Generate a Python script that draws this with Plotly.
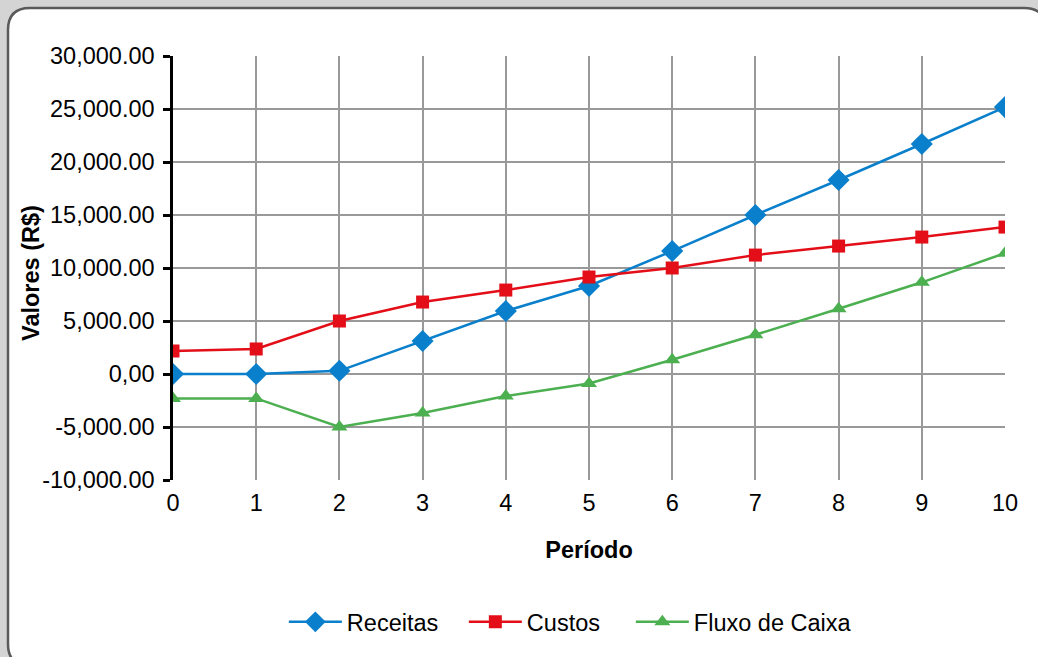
import plotly.graph_objects as go

periodos = [0, 1, 2, 3, 4, 5, 6, 7, 8, 9, 10]
receitas = [0, 0, 300, 3110, 5940, 8300, 11600, 15000, 18300, 21700, 25180]
custos = [2170, 2360, 5000, 6790, 7920, 9150, 10000, 11220, 12070, 12920, 13860]
fluxo = [-2300, -2300, -5000, -3680, -2080, -900, 1350, 3700, 6150, 8650, 11400]

y_ticks = [-10000, -5000, 0, 5000, 10000, 15000, 20000, 25000, 30000]
y_labels = ["-10,000.00", "-5,000.00", "0,00", "5,000.00", "10,000.00",
            "15,000.00", "20,000.00", "25,000.00", "30,000.00"]

W, H = 1038, 657
L, R, T, B = 173, 33, 56, 177
pw, ph = W - L - R, H - T - B
FS = 23.5

def px(x):
    return (x - L) / pw

def py(y):
    return (H - B - y) / ph

fig = go.Figure()
fig.add_trace(go.Scatter(x=periodos, y=receitas, name="Receitas", mode="lines+markers",
                         line=dict(color="#0a7fcb", width=2.5), legend="legend",
                         marker=dict(symbol="diamond", size=17, color="#0a7fcb")))
fig.add_trace(go.Scatter(x=periodos, y=custos, name="Custos", mode="lines+markers",
                         line=dict(color="#e30e18", width=2.5), legend="legend2",
                         marker=dict(symbol="square", size=13, color="#e30e18")))
fig.add_trace(go.Scatter(x=periodos, y=fluxo, name="Fluxo de Caixa", mode="lines+markers",
                         line=dict(color="#4caf50", width=2.5), legend="legend3",
                         marker=dict(symbol="triangle-up", size=14, color="#4caf50")))

# rounded panel
x0, y0, x1, y1, r = px(8), py(8), px(1046), py(666), 22
rx, ry = r / pw, r / ph
path = (f"M {x0+rx},{y0} L {x1-rx},{y0} Q {x1},{y0} {x1},{y0-ry} "
        f"L {x1},{y1+ry} Q {x1},{y1} {x1-rx},{y1} L {x0+rx},{y1} "
        f"Q {x0},{y1} {x0},{y1+ry} L {x0},{y0-ry} Q {x0},{y0} {x0+rx},{y0} Z")
fig.add_shape(type="path", path=path, xref="paper", yref="paper",
              fillcolor="white", line=dict(color="#5a5a5a", width=2.5), layer="below")

fig.add_annotation(text="<b>Valores (R$)</b>", textangle=-90, xref="paper", yref="paper",
                   x=px(31), y=py(273), xanchor="center", yanchor="middle",
                   showarrow=False, font=dict(size=FS))

def leg(xpix):
    return dict(orientation="h", x=px(xpix) - 0.005, xanchor="left", y=py(622),
                yanchor="middle", font=dict(size=FS), bgcolor="rgba(0,0,0,0)", itemwidth=53)

fig.update_layout(
    width=W, height=H,
    margin=dict(l=L, r=R, t=T, b=B, pad=0),
    paper_bgcolor="#d4d4d4",
    plot_bgcolor="rgba(0,0,0,0)",
    font=dict(family="Liberation Sans, Arial, sans-serif", size=FS, color="black"),
    showlegend=True,
    legend=leg(288), legend2=leg(468), legend3=leg(635),
    xaxis=dict(range=[0, 10], tickvals=periodos, showgrid=True, gridcolor="#999999",
               gridwidth=1.5, zeroline=False, showline=False, ticks="",
               ticklabelstandoff=6,
               title=dict(text="<b>Período</b>", font=dict(size=FS), standoff=27)),
    yaxis=dict(range=[-10000, 30000], tickvals=y_ticks, ticktext=y_labels, showgrid=True,
               gridcolor="#999999", gridwidth=2, zeroline=True, zerolinecolor="#999999",
               zerolinewidth=2, showline=True, linecolor="black", linewidth=2.5,
               ticks="outside", ticklen=7, tickwidth=2.5, tickcolor="black",
               ticklabelstandoff=4),
)

fig.write_html("out.html", post_script="document.body.style.margin='0px';",
               config={"displayModeBar": False})
